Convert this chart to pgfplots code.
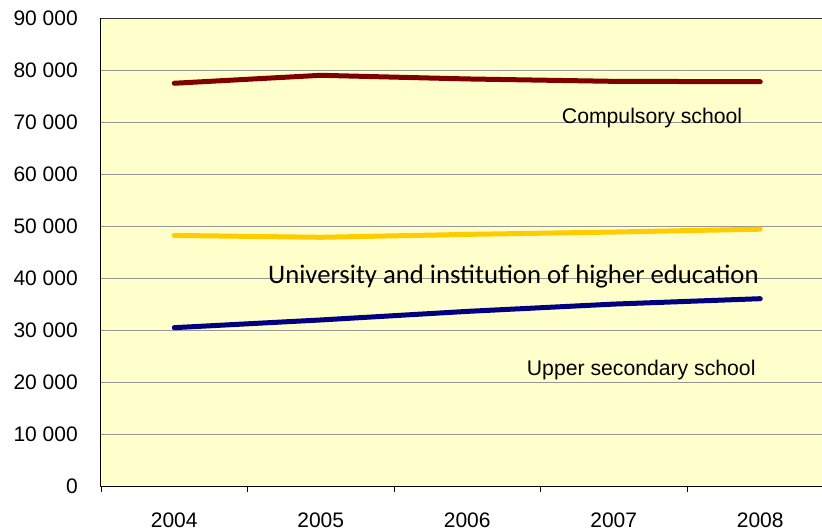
\documentclass[border=0pt]{standalone}
\usepackage{fontspec}
\setmainfont{Liberation Sans}
\newfontfamily\calibri{Carlito}
\usepackage{pgfplots}
\pgfplotsset{compat=1.18}
\definecolor{bgy}{RGB}{255,255,204}
\definecolor{gridg}{RGB}{150,150,150}
\definecolor{comp}{RGB}{128,0,0}
\definecolor{univ}{RGB}{255,204,0}
\definecolor{upper}{RGB}{0,0,128}
\begin{document}
\begin{tikzpicture}
\path[use as bounding box] (-101pt,-45.3pt) rectangle (721pt,486.7pt);
\begin{axis}[
  at={(0pt,0pt)}, anchor=south west,
  scale only axis, width=721pt, height=468.2pt,
  xmin=-0.5, xmax=4.4215, ymin=0, ymax=90000,
  scaled y ticks=false,
  axis background/.style={fill=bgy},
  axis line style={draw=none},
  xtick={0,1,2,3,4},
  xticklabels={2004,2005,2006,2007,2008},
  minor xtick={-0.5,0.5,1.5,2.5,3.5},
  ytick={0,10000,...,90000},
  yticklabels={0,10 000,20 000,30 000,40 000,50 000,60 000,70 000,80 000,90 000},
  tick pos=left,
  tick align=outside,
  major tick length=0pt,
  minor tick length=5pt,
  minor tick style={black, line width=0.8pt},
  ymajorgrids,
  major grid style={gridg, line width=1pt},
  tick label style={font=\fontsize{21}{24}\selectfont},
  yticklabel style={anchor=east, inner sep=0pt, xshift=-23pt},
  xticklabel style={anchor=north, inner sep=0pt, yshift=-26pt},
  clip=false,
]
\addplot[comp, line width=5pt, line cap=round, line join=round] coordinates {
  (0,77550) (1,79080) (2,78380) (3,77920) (4,77850)};
\addplot[univ, line width=5pt, line cap=round, line join=round] coordinates {
  (0,48300) (1,47940) (2,48500) (3,48950) (4,49500)};
\addplot[upper, line width=5pt, line cap=round, line join=round] coordinates {
  (0,30570) (1,32050) (2,33700) (3,35100) (4,36140)};
\draw[black, line width=1pt] (rel axis cs:0,1) -- (rel axis cs:0,0) -- (rel axis cs:1,0);
\draw[black!80, line width=1pt] (rel axis cs:0,1) -- (rel axis cs:1,1);
\node[anchor=base west, inner sep=0pt, font=\fontsize{21.2}{24}\selectfont] at (axis cs:2.645,69857) {Compulsory school};
\node[anchor=base west, inner sep=0pt, font=\calibri\fontsize{26.7}{30}\selectfont] at (axis cs:0.640,39100) {University and institution of higher education};
\node[anchor=base west, inner sep=0pt, font=\fontsize{21.2}{24}\selectfont] at (axis cs:2.406,21470) {Upper secondary school};
\end{axis}
\end{tikzpicture}
\end{document}
